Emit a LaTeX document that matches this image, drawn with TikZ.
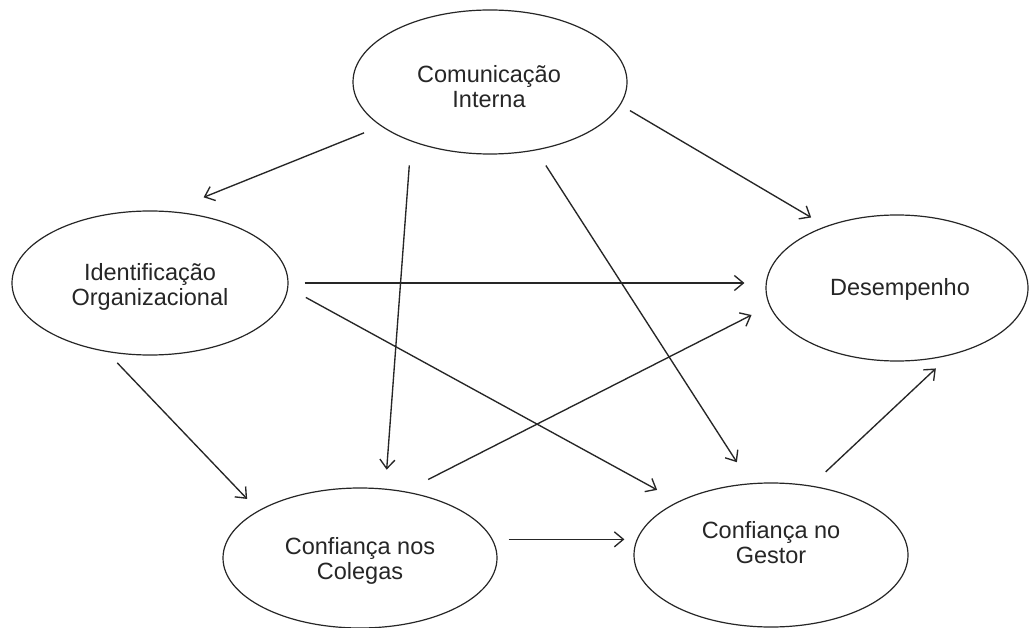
\documentclass[tikz,border=0pt]{standalone}
\usepackage{fontspec}
\setmainfont{Liberation Sans}
\usetikzlibrary{shapes.geometric,arrows.meta}
\begin{document}
\begin{tikzpicture}[x=1pt,y=-1pt,
  construct/.style={ellipse, draw=black!85, line width=1.2pt, inner sep=0pt},
  caption/.style={align=center, text=black!85, inner sep=0pt, font=\fontsize{23.5}{25}\selectfont},
  link/.style={draw=black!85, line width=1.35pt, -{Straight Barb[length=9pt,width=15pt,line width=1.35pt]}}
]
\useasboundingbox[fill=white] (0,0) rectangle (1032,628);
\node[construct, minimum width=274pt, minimum height=144pt] (CI) at (490,82) {};
\node[caption] (CIt) at (489,87) {Comunicação\\Interna};
\node[construct, minimum width=276pt, minimum height=144pt] (IO) at (150,283) {};
\node[caption] (IOt) at (150,287) {Identificação\\Organizacional};
\node[construct, minimum width=262pt, minimum height=146pt] (D) at (897,288) {};
\node[caption] (Dt) at (900,289) {Desempenho};
\node[construct, minimum width=274pt, minimum height=140pt] (Col) at (360,558) {};
\node[caption] (Colt) at (360,561) {Confiança nos\\Colegas};
\node[construct, minimum width=274pt, minimum height=144pt] (G) at (771,555) {};
\node[caption] (Gt) at (771,543) {Confiança no\\Gestor};

\draw[link, shorten <=18pt, shorten >=37pt] (CI.202) -- (IO.75);
\draw[link, shorten <=24pt, shorten >=19pt] (CI.217) -- (Col.70);
\draw[link, shorten <=18pt, shorten >=25pt] (CI.304) -- (G.106);
\draw[link, shorten <=11pt, shorten >=17pt] (CI.350) -- (D.139);
\draw[link, shorten <=16pt, shorten >=21pt] (IO.east) -- (IO.east -| D.west);
\draw[link, shorten <=20pt, shorten >=24pt] (IO.358) -- (G.150);
\draw[link, shorten <=15pt, shorten >=16pt] (IO.238) -- (Col.155);
\draw[link, shorten <=26pt, shorten >=20pt] (Col.56) -- (D.188);
\draw[link, shorten <=16pt, shorten >=9pt] (Col.8) -- (Col.8 -| G.west);
\draw[link, shorten <=20pt, shorten >=19pt] (G.60) -- (D.308);
\end{tikzpicture}
\end{document}
